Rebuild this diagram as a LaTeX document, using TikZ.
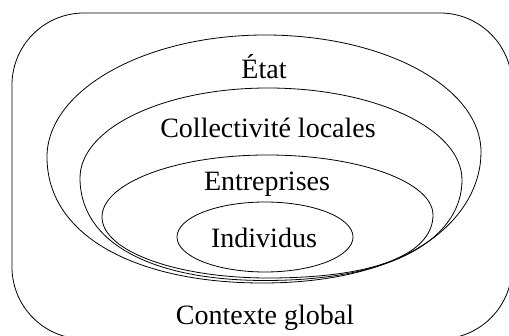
\documentclass[tikz,border=0pt]{standalone}
\usepackage{fontspec}
\setmainfont{Liberation Serif}
\begin{document}
\begin{tikzpicture}[x=1pt,y=-1pt,
  outline/.style={draw=black,line width=0.8pt},
  lbl/.style={font=\fontsize{28}{30}\selectfont,anchor=base,inner sep=0pt}]
\useasboundingbox (0,0) rectangle (509,336);
\clip (0,0) rectangle (509,336);
% context frame
\draw[outline,rounded corners=72pt] (12,13) rectangle (512,339);
% Etat
\draw[outline] (47,157) .. controls (47,90) and (145,35) .. (265,35)
  .. controls (384,35) and (481,87) .. (481,152)
  .. controls (481,215) and (415,283) .. (262,283)
  .. controls (140,283) and (47,238) .. (47,157) -- cycle;
% Collectivite
\draw[outline] (80,178) .. controls (80,128) and (164,88) .. (268,88)
  .. controls (375,88) and (462,129) .. (462,180)
  .. controls (462,232) and (405,280.5) .. (265,280.5)
  .. controls (152,280.5) and (80,243) .. (80,178) -- cycle;
% Entreprises
\draw[outline] (102,217) .. controls (102,183) and (176,155) .. (267,155)
  .. controls (359,155) and (433,182) .. (433,215)
  .. controls (433,250) and (385,278) .. (268,278)
  .. controls (176,278) and (102,251) .. (102,217) -- cycle;
% Individus
\draw[outline] (265,237) ellipse [x radius=88, y radius=35];
% labels
\node[lbl] (etat) at (264,79) {État};
\node[lbl] (coll) at (268,138) {Collectivité locales};
\node[lbl] (entr) at (267,191) {Entreprises};
\node[lbl] (indi) at (264,248) {Individus};
\node[lbl] (ctx) at (265,325) {Contexte global};
\end{tikzpicture}
\end{document}
